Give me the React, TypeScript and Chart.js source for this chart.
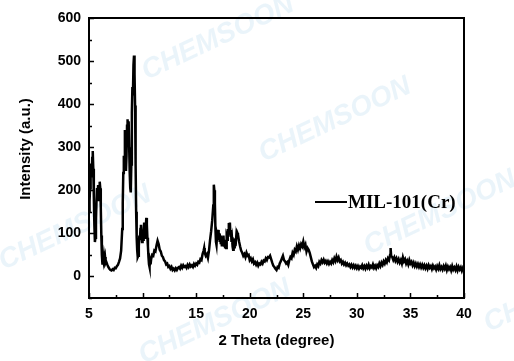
import { useEffect, useRef } from "react";
import { Chart, registerables } from "chart.js";

Chart.register(...registerables);

const twoTheta = [
  5.0, 5.05, 5.1, 5.15, 5.2, 5.25, 5.3, 5.35, 5.4, 5.45,
  5.5, 5.55, 5.6, 5.65, 5.7, 5.75, 5.8, 5.85, 5.9, 5.95,
  6.0, 6.05, 6.1, 6.15, 6.2, 6.25, 6.3, 6.35, 6.4, 6.45,
  6.5, 6.55, 6.6, 6.7, 6.8, 6.9, 7.0, 7.1, 7.2, 7.3,
  7.4, 7.5, 7.6, 7.7, 7.8, 7.9, 8.0, 8.1, 8.15, 8.2,
  8.25, 8.3, 8.35, 8.4, 8.45, 8.5, 8.55, 8.6, 8.65, 8.7,
  8.75, 8.8, 8.85, 8.9, 8.95, 9.0, 9.05, 9.1, 9.15, 9.2,
  9.25, 9.3, 9.35, 9.4, 9.45, 9.5, 9.55, 9.6, 9.65, 9.7,
  9.75, 9.8, 9.85, 9.9, 9.95, 10.0, 10.05, 10.1, 10.15, 10.2,
  10.25, 10.3, 10.35, 10.4, 10.45, 10.5, 10.55, 10.6, 10.65, 10.7,
  10.75, 10.8, 10.9, 11.0, 11.1, 11.2, 11.3, 11.4, 11.5, 11.6,
  11.7, 11.8, 11.9, 12.0, 12.1, 12.2, 12.3, 12.4, 12.5, 12.6,
  12.7, 12.8, 12.9, 13.0, 13.1, 13.2, 13.3, 13.4, 13.5, 13.6,
  13.7, 13.8, 13.9, 14.0, 14.1, 14.2, 14.3, 14.4, 14.5, 14.6,
  14.7, 14.8, 14.9, 15.0, 15.1, 15.2, 15.3, 15.4, 15.5, 15.6,
  15.7, 15.75, 15.8, 15.9, 16.0, 16.1, 16.2, 16.3, 16.4, 16.5,
  16.6, 16.65, 16.7, 16.75, 16.8, 16.85, 16.9, 16.95, 17.0, 17.05,
  17.1, 17.15, 17.2, 17.25, 17.3, 17.35, 17.4, 17.45, 17.5, 17.55,
  17.6, 17.65, 17.7, 17.75, 17.8, 17.85, 17.9, 17.95, 18.0, 18.05,
  18.1, 18.15, 18.2, 18.25, 18.3, 18.35, 18.4, 18.45, 18.5, 18.55,
  18.6, 18.7, 18.75, 18.8, 18.85, 18.9, 18.95, 19.0, 19.1, 19.2,
  19.3, 19.4, 19.5, 19.6, 19.7, 19.8, 19.9, 20.0, 20.1, 20.2,
  20.3, 20.4, 20.5, 20.6, 20.7, 20.8, 20.9, 21.0, 21.1, 21.2,
  21.3, 21.4, 21.5, 21.6, 21.7, 21.8, 21.9, 22.0, 22.1, 22.2,
  22.3, 22.4, 22.5, 22.6, 22.7, 22.8, 22.9, 23.0, 23.1, 23.2,
  23.3, 23.4, 23.5, 23.6, 23.7, 23.8, 23.9, 24.0, 24.1, 24.2,
  24.3, 24.4, 24.5, 24.6, 24.7, 24.8, 24.9, 25.0, 25.1, 25.2,
  25.3, 25.4, 25.5, 25.6, 25.7, 25.8, 25.9, 26.0, 26.1, 26.2,
  26.3, 26.4, 26.5, 26.6, 26.7, 26.8, 26.9, 27.0, 27.1, 27.2,
  27.3, 27.4, 27.5, 27.6, 27.7, 27.8, 27.9, 28.0, 28.1, 28.2,
  28.3, 28.4, 28.5, 28.6, 28.7, 28.8, 28.9, 29.0, 29.1, 29.2,
  29.3, 29.4, 29.5, 29.6, 29.7, 29.8, 29.9, 30.0, 30.1, 30.2,
  30.3, 30.4, 30.5, 30.6, 30.7, 30.8, 30.9, 31.0, 31.1, 31.2,
  31.3, 31.4, 31.5, 31.6, 31.7, 31.8, 31.9, 32.0, 32.1, 32.2,
  32.3, 32.4, 32.5, 32.6, 32.7, 32.8, 32.9, 33.0, 33.1, 33.15,
  33.2, 33.3, 33.4, 33.5, 33.6, 33.7, 33.8, 33.9, 34.0, 34.1,
  34.2, 34.3, 34.4, 34.5, 34.6, 34.7, 34.8, 34.9, 35.0, 35.1,
  35.2, 35.3, 35.4, 35.5, 35.6, 35.7, 35.8, 35.9, 36.0, 36.1,
  36.2, 36.3, 36.4, 36.5, 36.6, 36.7, 36.8, 36.9, 37.0, 37.1,
  37.2, 37.3, 37.4, 37.5, 37.6, 37.7, 37.8, 37.9, 38.0, 38.1,
  38.2, 38.3, 38.4, 38.5, 38.6, 38.7, 38.8, 38.9, 39.0, 39.1,
  39.2, 39.3, 39.4, 39.5, 39.6, 39.7, 39.8, 39.9, 40.0,
];

const intensity = [
  150, 175, 205, 240, 262, 230, 275, 291, 250, 185,
  120, 80, 90, 130, 175, 205, 190, 212, 175, 200,
  220, 205, 160, 95, 50, 30, 42, 35, 48, 38,
  45, 32, 35, 28, 22, 18, 15, 14, 17, 15,
  20, 19, 24, 27, 34, 42, 60, 110, 170, 240,
  280, 270, 340, 300, 245, 280, 350, 365, 330, 360,
  300, 240, 205, 195, 260, 380, 440, 420, 490, 513,
  470, 397, 260, 150, 90, 60, 45, 48, 70, 95,
  85, 110, 120, 95, 80, 100, 85, 105, 125, 110,
  90, 115, 136, 120, 90, 70, 45, 28, 22, 35,
  28, 40, 50, 48, 60, 58, 72, 83, 75, 62,
  58, 48, 45, 38, 35, 28, 30, 22, 24, 18,
  22, 15, 18, 14, 19, 15, 20, 22, 18, 25,
  20, 26, 22, 24, 20, 27, 22, 28, 23, 26,
  22, 29, 25, 30, 27, 34, 32, 40, 38, 52,
  60, 66, 55, 48, 52, 43, 60, 85, 105, 130,
  165, 213, 200, 170, 110, 80, 73, 95, 88, 108,
  85, 100, 80, 95, 75, 92, 70, 88, 78, 95,
  72, 85, 68, 78, 66, 90, 85, 110, 100, 124,
  105, 125, 95, 108, 80, 88, 70, 62, 75, 68,
  82, 78, 95, 88, 101, 98, 90, 82, 70, 60,
  55, 48, 52, 45, 55, 48, 50, 38, 42, 35,
  40, 30, 33, 27, 32, 25, 30, 28, 34, 30,
  37, 35, 42, 38, 45, 44, 48, 40, 32, 25,
  22, 18, 15, 22, 20, 30, 35, 42, 48, 38,
  35, 30, 33, 27, 38, 45, 42, 55, 50, 62,
  58, 70, 62, 72, 65, 75, 70, 81, 68, 74,
  58, 66, 62, 55, 45, 35, 28, 22, 25, 20,
  28, 24, 34, 30, 38, 33, 39, 32, 36, 30,
  35, 29, 34, 30, 38, 33, 42, 36, 46, 38,
  44, 35, 38, 30, 34, 28, 32, 26, 30, 25,
  28, 22, 27, 21, 26, 20, 25, 19, 24, 18,
  23, 20, 26, 19, 24, 18, 25, 20, 27, 19,
  24, 21, 28, 20, 25, 19, 26, 22, 30, 24,
  32, 27, 35, 30, 38, 33, 42, 38, 50, 66,
  48, 45, 38, 44, 36, 42, 34, 40, 32, 38,
  30, 44, 35, 40, 30, 36, 28, 38, 30, 34,
  26, 32, 24, 30, 23, 29, 22, 28, 21, 27,
  20, 26, 19, 25, 18, 26, 20, 24, 17, 25,
  19, 23, 16, 24, 18, 26, 17, 22, 16, 24,
  18, 25, 15, 23, 17, 22, 14, 24, 16, 21,
  15, 23, 14, 22, 16, 21, 13, 20, 15,
];

const xTicks = [5, 10, 15, 20, 25, 30, 35, 40];
const xMinorTicks = [7.5, 12.5, 17.5, 22.5, 27.5, 32.5, 37.5];
const yTicks = [0, 100, 200, 300, 400, 500, 600];
const yMinorTicks = [-50, 50, 150, 250, 350, 450, 550];
const xRange = [5, 40];
const yRange = [-50, 600];

const seriesLabel = "MIL-101(Cr)";
const xTitle = "2 Theta (degree)";
const yTitle = "Intensity (a.u.)";
const watermarkText = "CHEMSOON";
const watermarkSpots = [
  [218, 38],
  [335, 120],
  [75, 228],
  [440, 213],
  [215, 322],
  [560, 290],
];

const SANS = "Arial, 'Liberation Sans', sans-serif";
const SERIF = "'Times New Roman', 'Liberation Serif', serif";

export default function App() {
  const ref = useRef<HTMLCanvasElement>(null);

  useEffect(() => {
    document.body.style.margin = "0";
    const canvas = ref.current;
    if (!canvas) return;

    const decor = {
      id: "decor",
      beforeDraw(chart: any) {
        const ctx = chart.ctx;
        ctx.save();
        ctx.fillStyle = "rgba(185, 218, 240, 0.3)";
        ctx.font = `italic bold 28px ${SANS}`;
        ctx.textAlign = "center";
        ctx.textBaseline = "middle";
        for (const [cx, cy] of watermarkSpots) {
          ctx.save();
          ctx.translate(cx, cy);
          ctx.rotate(-0.44);
          ctx.fillText(watermarkText, 0, 0);
          ctx.restore();
        }
        ctx.restore();
      },
      afterDraw(chart: any) {
        const ctx = chart.ctx;
        const { left, right, top, bottom } = chart.chartArea;
        const xs = chart.scales.x;
        const ys = chart.scales.y;
        ctx.save();
        ctx.strokeStyle = "#000";
        ctx.lineWidth = 2;
        ctx.beginPath();
        ctx.moveTo(left - 1, top);
        ctx.lineTo(right, top);
        ctx.lineTo(right, bottom + 1);
        ctx.stroke();

        ctx.lineWidth = 1.5;
        ctx.beginPath();
        for (const v of xTicks) {
          const p = Math.round(xs.getPixelForValue(v)) + 0.5;
          ctx.moveTo(p, bottom);
          ctx.lineTo(p, bottom - 5);
        }
        for (const v of xMinorTicks) {
          const p = Math.round(xs.getPixelForValue(v)) + 0.5;
          ctx.moveTo(p, bottom);
          ctx.lineTo(p, bottom - 3);
        }
        for (const v of yTicks) {
          const p = Math.round(ys.getPixelForValue(v)) + 0.5;
          ctx.moveTo(left, p);
          ctx.lineTo(left + 5, p);
        }
        for (const v of yMinorTicks) {
          const p = Math.round(ys.getPixelForValue(v)) + 0.5;
          ctx.moveTo(left, p);
          ctx.lineTo(left + 3, p);
        }
        ctx.stroke();

        // axis titles
        ctx.fillStyle = "#000";
        ctx.font = `bold 15px ${SANS}`;
        ctx.textAlign = "center";
        ctx.textBaseline = "middle";
        ctx.fillText(xTitle, (left + right) / 2, 341);
        ctx.save();
        ctx.translate(26, 149);
        ctx.rotate(-Math.PI / 2);
        ctx.fillText(yTitle, 0, 0);
        ctx.restore();

        // legend
        const lx = left + 226;
        const ly = top + 184;
        ctx.lineWidth = 2;
        ctx.beginPath();
        ctx.moveTo(lx, ly);
        ctx.lineTo(lx + 32, ly);
        ctx.stroke();
        ctx.font = `bold 19px ${SERIF}`;
        ctx.textAlign = "left";
        ctx.fillText(seriesLabel, lx + 33, ly + 1);
        ctx.restore();
      },
    };

    const chart = new Chart(canvas, {
      type: "line",
      data: {
        datasets: [
          {
            label: seriesLabel,
            data: twoTheta.map((t, i) => ({ x: t, y: intensity[i] })),
            borderColor: "#000",
            borderWidth: 2.5,
            pointRadius: 0,
            tension: 0,
            fill: false,
          },
        ],
      },
      options: {
        responsive: false,
        animation: false,
        layout: { padding: { top: 18, right: 50, left: 0, bottom: 0 } },
        plugins: {
          legend: { display: false },
          tooltip: { enabled: false },
        },
        scales: {
          x: {
            type: "linear",
            min: xRange[0],
            max: xRange[1],
            afterBuildTicks: (s: any) => {
              s.ticks = xTicks.map((value) => ({ value }));
            },
            afterFit: (s: any) => {
              s.height = 63;
            },
            grid: { display: false, drawTicks: false },
            border: { display: true, color: "#000", width: 2 },
            ticks: {
              color: "#000",
              padding: 8,
              maxRotation: 0,
              autoSkip: false,
              font: { family: SANS, size: 14, weight: "bold" },
            },
          },
          y: {
            type: "linear",
            min: yRange[0],
            max: yRange[1],
            afterBuildTicks: (s: any) => {
              s.ticks = yTicks.map((value) => ({ value }));
            },
            afterFit: (s: any) => {
              s.width = 89;
            },
            grid: { display: false, drawTicks: false },
            border: { display: true, color: "#000", width: 2 },
            ticks: {
              color: "#000",
              padding: 8,
              autoSkip: false,
              font: { family: SANS, size: 14, weight: "bold" },
            },
          },
        },
      },
      plugins: [decor],
    } as any);

    return () => chart.destroy();
  }, []);

  return (
    <div style={{ width: 514, height: 361 }}>
      <canvas ref={ref} width={514} height={361} style={{ display: "block" }} />
    </div>
  );
}
